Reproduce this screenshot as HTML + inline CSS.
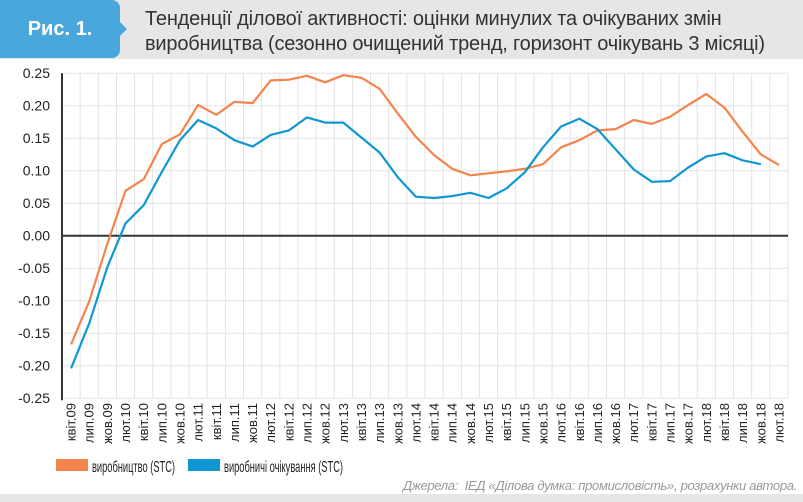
<!DOCTYPE html>
<html><head><meta charset="utf-8"><style>
body{margin:0;width:803px;height:502px;overflow:hidden;background:#fff;font-family:"Liberation Sans",sans-serif}
#hdr{position:absolute;left:0;top:0;width:803px;height:59px;background:#e6e6e6}
#badge{position:absolute;left:0;top:0;width:120px;height:58px;background:#4aa7dc;border-radius:0 8px 8px 0;color:#fff;font-weight:bold;font-size:20px;line-height:58px;text-align:center}
#badge:after{content:"";position:absolute;right:-7px;top:22px;border-left:7px solid #4aa7dc;border-top:7px solid transparent;border-bottom:7px solid transparent}
#title{position:absolute;left:145px;top:7px;font-size:20px;line-height:25px;color:#333;letter-spacing:-0.2px}
#foot{position:absolute;left:0;top:494px;width:803px;height:8px;background:#e6e6e6}
#src{position:absolute;right:6px;top:478px;font-size:13px;font-style:italic;color:#999;letter-spacing:-0.3px}
</style></head><body>
<div id="hdr"></div>
<div id="badge">Рис. 1.</div>
<div id="title">Тенденції ділової активності: оцінки минулих та очікуваних змін<br>виробництва (сезонно очищений тренд, горизонт очікувань 3 місяці)</div>
<svg id="chart" width="803" height="502" style="position:absolute;left:0;top:0"></svg>
<div id="foot"></div>
<div id="src">Джерела:&nbsp; ІЕД «Ділова думка: промисловість», розрахунки автора.</div>
<script>
const categories=["квіт.09","лип.09","жов.09","лют.10","квіт.10","лип.10","жов.10","лют.11","квіт.11","лип.11","жов.11","лют.12","квіт.12","лип.12","жов.12","лют.13","квіт.13","лип.13","жов.13","лют.14","квіт.14","лип.14","жов.14","лют.15","квіт.15","лип.15","жов.15","лют.16","квіт.16","лип.16","жов.16","лют.17","квіт.17","лип.17","жов.17","лют.18","квіт.18","лип.18","жов.18","лют.18"];
const production=[-0.167,-0.101,-0.012,0.069,0.087,0.141,0.156,0.201,0.186,0.206,0.204,0.239,0.240,0.246,0.236,0.247,0.243,0.226,0.188,0.152,0.124,0.103,0.093,0.096,0.099,0.103,0.110,0.136,0.147,0.162,0.164,0.178,0.172,0.183,0.201,0.218,0.197,0.160,0.125,0.109];
const expectations=[-0.204,-0.135,-0.048,0.019,0.047,0.098,0.147,0.178,0.165,0.147,0.137,0.155,0.162,0.182,0.174,0.174,0.151,0.128,0.090,0.060,0.058,0.061,0.066,0.058,0.073,0.0975,0.136,0.168,0.180,0.164,0.133,0.102,0.083,0.084,0.105,0.122,0.127,0.116,0.110,null];
const yTicks=[0.25,0.20,0.15,0.10,0.05,0.00,-0.05,-0.10,-0.15,-0.20,-0.25];
const NS="http://www.w3.org/2000/svg";
const svg=document.getElementById('chart');
const X0=62,X1=788,Y0=73.2,Y1=398.2,VMAX=0.25,VMIN=-0.25;
const bw=(X1-X0)/categories.length;
function xs(i){return X0+bw*(i+0.5);}
function ys(v){return Y0+(VMAX-v)/(VMAX-VMIN)*(Y1-Y0);}
function mk(t,a){const e=document.createElementNS(NS,t);for(const k in a)e.setAttribute(k,a[k]);svg.appendChild(e);return e;}
yTicks.forEach(v=>{
  const g=mk('line',{x1:X0,x2:X1,y1:ys(v),y2:ys(v),stroke:'#e3e3e3','stroke-width':1});
  
  
  const t=mk('text',{x:50,y:ys(v)+5,'text-anchor':'end','font-size':14,fill:'#222','font-family':'Liberation Sans, sans-serif'});
  t.textContent=v.toFixed(2);
  
  
});
for(let i=0;i<=categories.length;i++){
  const g=mk('line',{x1:X0+bw*i,x2:X0+bw*i,y1:Y0,y2:Y1,stroke:'#e3e3e3','stroke-width':1});
  
  
}
categories.forEach((c,i)=>{
  const t=mk('text',{x:0,y:0,transform:`translate(${xs(i)+4.5},403) rotate(-90)`,'text-anchor':'end','font-size':13,fill:'#222','font-family':'Liberation Sans, sans-serif'});
  t.textContent=c;
  
  
});
const zl=mk('line',{x1:X0,x2:X1,y1:ys(0),y2:ys(0),stroke:'#333','stroke-width':2});


const ya=mk('line',{x1:X0,x2:X0,y1:Y0,y2:Y1+2,stroke:'#333','stroke-width':2});


function series(arr,col,name){
  let d='';arr.forEach((v,i)=>{if(v===null)return;d+=(d?'L':'M')+xs(i).toFixed(1)+','+ys(v).toFixed(1);});
  const p=mk('path',{d:d,fill:'none',stroke:col,'stroke-width':2.2,'stroke-linejoin':'round'});
  
  
}
series(production,'#f5844c','production-line');
series(expectations,'#0e97d3','expectations-line');
function legend(x,w,col,label,name){
  const r=mk('rect',{x:x,y:459,width:32,height:12,fill:col});
  
  
  const t=mk('text',{x:x+36,y:472,'font-size':16,fill:'#222','font-family':'Liberation Sans, sans-serif','textLength':w,'lengthAdjust':'spacingAndGlyphs'});
  t.textContent=label;
  
  
}
legend(56,83,'#f5844c','виробництво (STC)','legend-production');
legend(188,119,'#0e97d3','виробничі очікування (STC)','legend-expectations');
</script>
</body></html>
